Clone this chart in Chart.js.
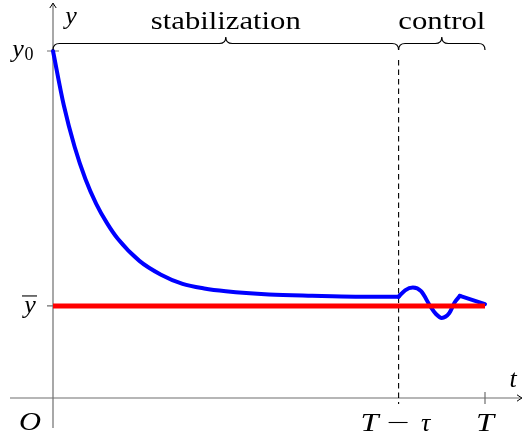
<!DOCTYPE html>
<html><head><meta charset="utf-8">
<script src="https://cdn.jsdelivr.net/npm/chart.js@4.4.1/dist/chart.umd.min.js"></script>
</head>
<body style="margin:0;background:#fff">
<canvas id="c" width="523" height="443"></canvas>
<script>
// Time marks on the t axis
const tStart = 0;
const tSwitch = 8;      // T - tau
const tEnd = 10;        // T

// Levels on the y axis
const yInit = 3.77;     // y0
const yTarget = 1;      // y-bar

// Stabilization phase: decay from y0 toward the target
const stabT = [0, 0.25, 0.5, 0.75, 1, 1.25, 1.5, 2, 2.5, 3, 3.5, 4, 5, 6, 7, 8];
const stabY = [3.77, 3.18, 2.73, 2.38, 2.11, 1.90, 1.73, 1.49, 1.34, 1.24, 1.19, 1.16, 1.125, 1.11, 1.10, 1.10];

// Control phase: oscillation, then the final approach to y-bar at T
const ctrlT = [8, 8.15, 8.33, 8.52, 8.73, 8.87, 9.0, 9.17, 9.3, 9.42];
const ctrlY = [1.10, 1.17, 1.20, 1.16, 1.00, 0.91, 0.87, 0.92, 1.04, 1.11];
const finalT = [9.42, 10];
const finalY = [1.11, 1.02];

// Target line
const targetT = [tStart, tEnd];
const targetY = [yTarget, yTarget];

const pts = (xs, ys) => xs.map((x, i) => ({ x: x, y: ys[i] }));

const ROMAN = '25px "Liberation Serif"';
const ITAL = 'italic 26px "Liberation Serif"';
const SUB = '18px "Liberation Serif"';

function brace(ctx, x1, x2, yb, r) {
  const mid = (x1 + x2) / 2;
  ctx.beginPath();
  ctx.moveTo(x1, yb);
  ctx.quadraticCurveTo(x1, yb - r, x1 + r, yb - r);
  ctx.lineTo(mid - r, yb - r);
  ctx.quadraticCurveTo(mid, yb - r, mid, yb - 2 * r);
  ctx.quadraticCurveTo(mid, yb - r, mid + r, yb - r);
  ctx.lineTo(x2 - r, yb - r);
  ctx.quadraticCurveTo(x2, yb - r, x2, yb);
  ctx.stroke();
}

function arrowHead(ctx, x, y, dir) {
  ctx.save();
  ctx.translate(x, y);
  if (dir === 'right') ctx.rotate(Math.PI / 2);
  ctx.beginPath();
  ctx.moveTo(-3.2, 5);
  ctx.quadraticCurveTo(-0.8, 1.5, 0, 0);
  ctx.quadraticCurveTo(0.8, 1.5, 3.2, 5);
  ctx.stroke();
  ctx.restore();
}

// Centered text, widened horizontally to a given width
function wideText(ctx, text, cx, y, font, width) {
  ctx.save();
  ctx.font = font;
  ctx.textAlign = 'center';
  ctx.textBaseline = 'alphabetic';
  const w = ctx.measureText(text).width;
  ctx.translate(cx, y);
  ctx.scale(width ? width / w : 1, 1);
  ctx.fillText(text, 0, 0);
  ctx.restore();
}

const axesPlugin = {
  id: 'mathAxes',
  beforeDatasetsDraw(chart) {
    const ctx = chart.ctx;
    const xs = chart.scales.x, ys = chart.scales.y;
    const x0 = xs.getPixelForValue(tStart);
    const xT = xs.getPixelForValue(tEnd);
    const xS = xs.getPixelForValue(tSwitch);
    const yO = ys.getPixelForValue(0);
    const yI = ys.getPixelForValue(yInit);
    const yB = ys.getPixelForValue(yTarget);

    ctx.save();
    ctx.strokeStyle = '#6e6e6e';
    ctx.lineWidth = 1.2;
    ctx.beginPath();
    ctx.moveTo(10, yO);
    ctx.lineTo(521, yO);
    ctx.stroke();
    ctx.beginPath();
    ctx.moveTo(x0, 428);
    ctx.lineTo(x0, 4);
    ctx.stroke();
    ctx.beginPath();
    ctx.moveTo(x0 - 6, yI); ctx.lineTo(x0 + 6, yI);
    ctx.moveTo(x0 - 6, yB); ctx.lineTo(x0, yB);
    ctx.moveTo(xT, yO - 6); ctx.lineTo(xT, yO + 6);
    ctx.stroke();
    ctx.strokeStyle = '#000';
    ctx.lineWidth = 1;
    arrowHead(ctx, x0, 3, 'up');
    arrowHead(ctx, 522, yO, 'right');

    // dashed marker at T - tau
    ctx.lineWidth = 1.1;
    ctx.setLineDash([5.5, 4]);
    ctx.beginPath();
    ctx.moveTo(xS, yI + 9);
    ctx.lineTo(xS, yO + 6);
    ctx.stroke();
    ctx.setLineDash([]);
    ctx.restore();
  },
  afterDraw(chart) {
    const ctx = chart.ctx;
    const xs = chart.scales.x, ys = chart.scales.y;
    const x0 = xs.getPixelForValue(tStart);
    const xT = xs.getPixelForValue(tEnd);
    const xS = xs.getPixelForValue(tSwitch);
    const yI = ys.getPixelForValue(yInit);
    const yB = ys.getPixelForValue(yTarget);

    ctx.save();
    ctx.strokeStyle = '#000';
    ctx.fillStyle = '#000';
    ctx.lineWidth = 1.2;
    brace(ctx, x0, xS, yI - 1, 6.5);
    brace(ctx, xS, xT, yI - 1, 6.5);

    wideText(ctx, 'stabilization', (x0 + xS) / 2, 29, ROMAN, 150);
    wideText(ctx, 'control', (xS + xT) / 2, 29, ROMAN, 87);

    wideText(ctx, 'y', 71, 24, ITAL, 0);
    wideText(ctx, 't', 513, 387, ITAL, 0);
    wideText(ctx, 'O', 30, 430, ITAL, 22);
    wideText(ctx, 'T', xT, 431, ITAL, 18);

    // T - tau
    wideText(ctx, 'T', xS - 29, 431, ITAL, 18);
    ctx.lineWidth = 1.1;
    ctx.beginPath();
    ctx.moveTo(xS - 10, 422.5);
    ctx.lineTo(xS + 9, 422.5);
    ctx.stroke();
    wideText(ctx, '\u03c4', xS + 27, 431, ITAL, 0);

    // y0
    wideText(ctx, 'y', 18, yI + 6, ITAL, 0);
    wideText(ctx, '0', 29, yI + 9, SUB, 0);

    // y-bar
    wideText(ctx, 'y', 30, yB + 7, ITAL, 0);
    ctx.lineWidth = 1.1;
    ctx.beginPath();
    ctx.moveTo(22, yB - 10);
    ctx.lineTo(37, yB - 10);
    ctx.stroke();
    ctx.restore();
  }
};

const lineDefaults = {
  showLine: true,
  pointRadius: 0,
  fill: false,
  clip: false,
  borderJoinStyle: 'round'
};

new Chart(document.getElementById('c'), {
  type: 'scatter',
  data: {
    datasets: [
      Object.assign({}, lineDefaults, { label: 'target', data: pts(targetT, targetY),
        borderColor: '#ff0000', borderWidth: 5, borderCapStyle: 'butt' }),
      Object.assign({}, lineDefaults, { label: 'stabilization', data: pts(stabT, stabY),
        borderColor: '#0000ff', borderWidth: 4, borderCapStyle: 'round', cubicInterpolationMode: 'monotone' }),
      Object.assign({}, lineDefaults, { label: 'control', data: pts(ctrlT, ctrlY),
        borderColor: '#0000ff', borderWidth: 4, borderCapStyle: 'round', cubicInterpolationMode: 'monotone' }),
      Object.assign({}, lineDefaults, { label: 'final', data: pts(finalT, finalY),
        borderColor: '#0000ff', borderWidth: 4, borderCapStyle: 'round' })
    ]
  },
  options: {
    responsive: false,
    animation: false,
    events: [],
    layout: { padding: { left: 53, right: 38, top: 51, bottom: 45 } },
    plugins: { legend: { display: false }, tooltip: { enabled: false } },
    scales: {
      x: { type: 'linear', min: tStart, max: tEnd, display: false },
      y: { type: 'linear', min: 0, max: yInit, display: false }
    }
  },
  plugins: [axesPlugin]
});
</script>
</body></html>
